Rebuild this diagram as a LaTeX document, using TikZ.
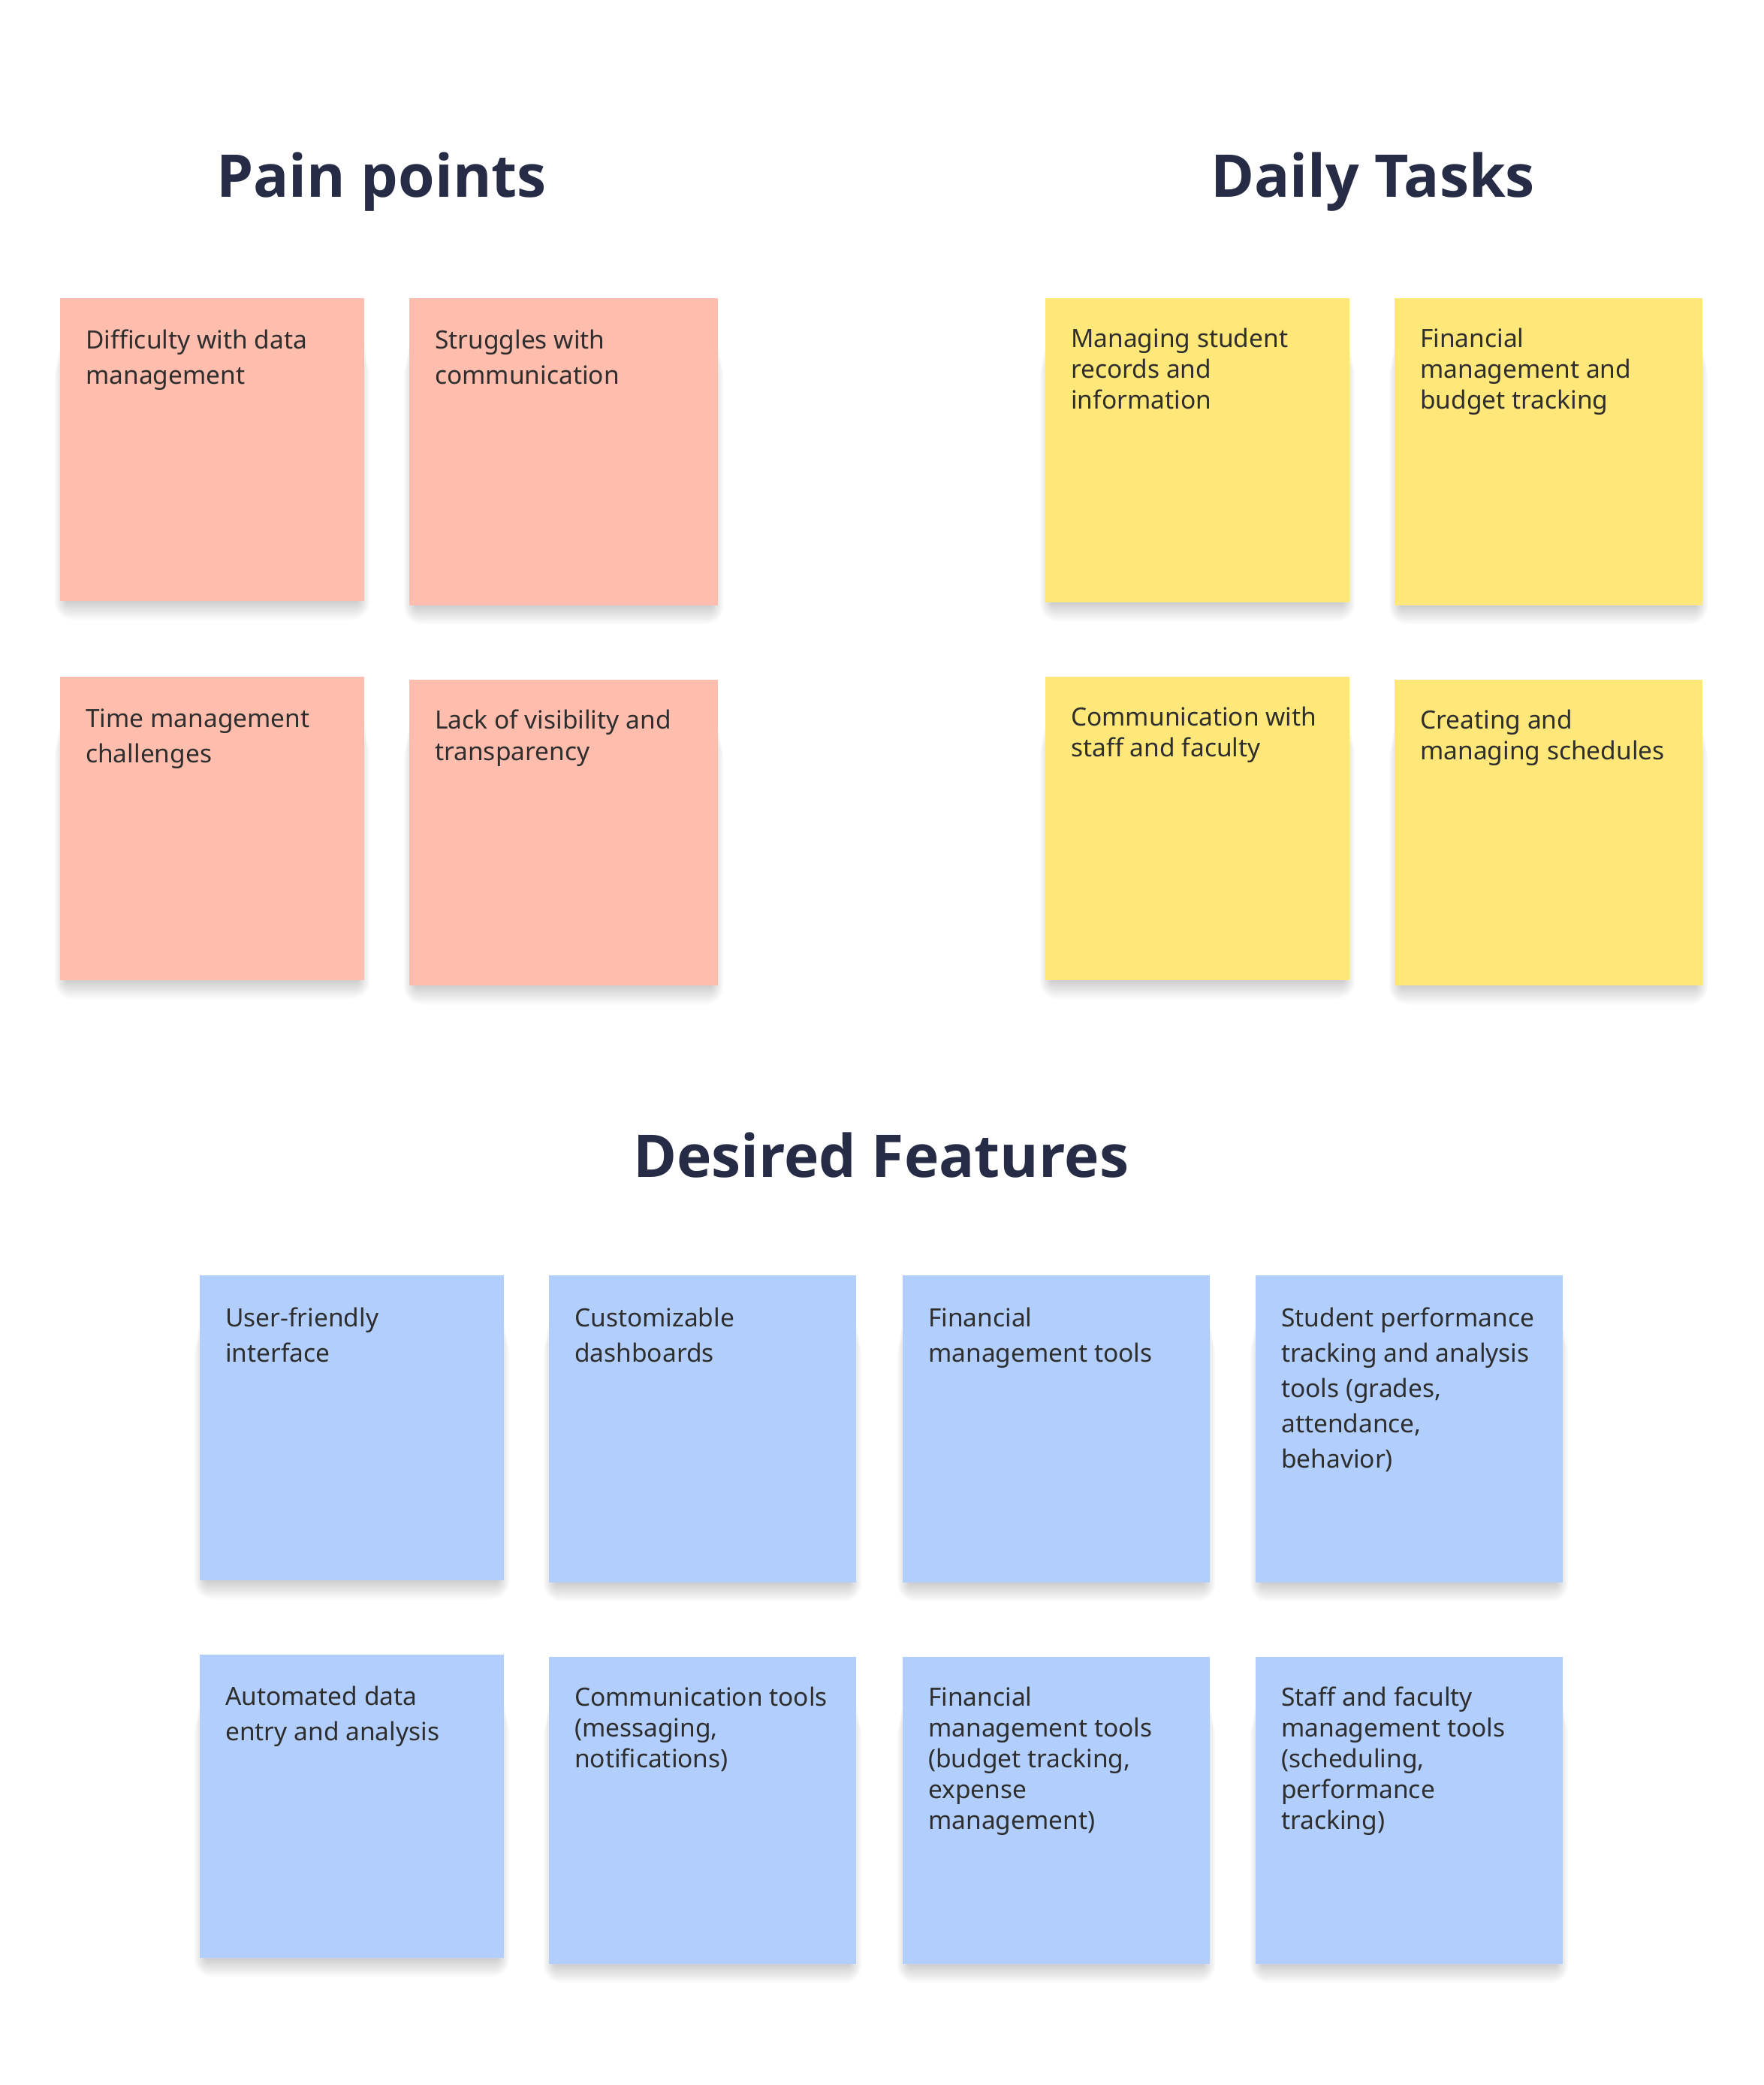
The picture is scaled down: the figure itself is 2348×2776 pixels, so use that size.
\documentclass[tikz,border=0pt]{standalone}
\usepackage{fontspec}
\setmainfont{Noto Sans}
\newfontfamily\titlefont{Open Sans}
\definecolor{titlenavy}{HTML}{262C45}
\definecolor{textgray}{HTML}{2E2E2E}
\definecolor{notepink}{HTML}{FEBDAD}
\definecolor{noteyellow}{HTML}{FFE77A}
\definecolor{noteblue}{HTML}{B1CEFD}
\tikzset{
  sticky/.style={draw=none, inner sep=0pt, outer sep=0pt, anchor=north west},
  shadowlayer/.style={fill=black, opacity=0.014},
  notetext/.style={anchor=north west, inner sep=0pt, align=left, text=textgray},
  sectiontitle/.style={anchor=base, inner sep=0pt, text=titlenavy, font=\titlefont\bfseries\fontsize{78.5}{90}\selectfont},
}
% #1 name, #2 x, #3 top, #4 w, #5 h, #6 colour, #7 line spacing, #8 text offset, #9 text
\newcommand\stickynote[9]{%
  \foreach \k in {0,...,11}{%
    \fill[shadowlayer, rounded corners={(\k+1)*2pt}]
      ({#2+8-\k*1.4},{-#3-15-\k*6}) rectangle ({#2+#4-8+\k*1.4},{-#3-#5-2-\k*2.1});
  }
  \node[sticky, fill=#6, minimum width=#4pt, minimum height=#5pt] (#1) at (#2,-#3) {};
  \node[notetext, font=\fontsize{33.5}{#7}\selectfont] (#1-t) at ([xshift=34pt,yshift=-#8pt]#1.north west) {\rule{0pt}{30pt}#9};
}
\begin{document}
\begin{tikzpicture}[x=1pt,y=1pt]
\useasboundingbox (0,0) rectangle (2348,-2776);
\fill[white] (0,0) rectangle (2348,-2776);

\node[sectiontitle] (tpain) at (508,-262) {Pain points};
\node[sectiontitle] (ttask) at (1828,-262) {Daily Tasks};
\node[sectiontitle] (tfeat) at (1173,-1567) {Desired Features};

\stickynote{p1}{80}{397}{405}{403}{notepink}{47}{37}{Difficulty with data\\management}
\stickynote{p2}{545}{397}{411}{409}{notepink}{47}{37}{Struggles with\\communication}
\stickynote{p3}{80}{901}{405}{404}{notepink}{47}{37}{Time management\\challenges}
\stickynote{p4}{545}{905}{411}{407}{notepink}{42}{35}{Lack of visibility and\\transparency}

\stickynote{d1}{1392}{397}{405}{405}{noteyellow}{41}{35}{Managing student\\records and\\information}
\stickynote{d2}{1857}{397}{410}{409}{noteyellow}{41}{35}{Financial\\management and\\budget tracking}
\stickynote{d3}{1392}{901}{405}{404}{noteyellow}{41}{35}{Communication with\\staff and faculty}
\stickynote{d4}{1857}{905}{410}{407}{noteyellow}{41}{35}{Creating and\\managing schedules}

\stickynote{f1}{266}{1698}{405}{406}{noteblue}{47}{38}{User-friendly\\interface}
\stickynote{f2}{731}{1698}{409}{409}{noteblue}{47}{38}{Customizable\\dashboards}
\stickynote{f3}{1202}{1698}{409}{409}{noteblue}{47}{38}{Financial\\management tools}
\stickynote{f4}{1672}{1698}{409}{409}{noteblue}{47}{38}{Student performance\\tracking and analysis\\tools (grades,\\attendance,\\behavior)}
\stickynote{f5}{266}{2203}{405}{404}{noteblue}{47}{37}{Automated data\\entry and analysis}
\stickynote{f6}{731}{2206}{409}{409}{noteblue}{41}{35}{Communication tools\\(messaging,\\notifications)}
\stickynote{f7}{1202}{2206}{409}{409}{noteblue}{41}{35}{Financial\\management tools\\(budget tracking,\\expense\\management)}
\stickynote{f8}{1672}{2206}{409}{409}{noteblue}{41}{35}{Staff and faculty\\management tools\\(scheduling,\\performance\\tracking)}
\end{tikzpicture}
\end{document}
